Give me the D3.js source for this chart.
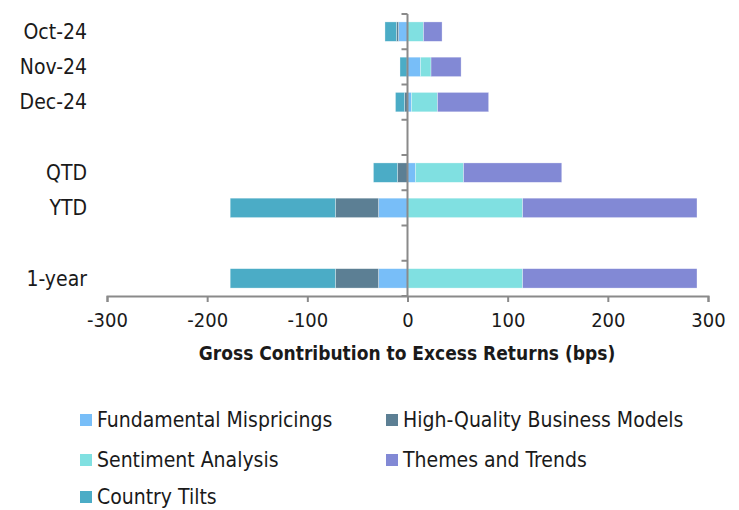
<!DOCTYPE html>
<html><head><meta charset="utf-8">
<script src="https://cdn.jsdelivr.net/npm/d3@7"></script>
<style>
body{margin:0;background:#fff;}
text{font-family:"DejaVu Sans Condensed","DejaVu Sans",sans-serif;font-stretch:condensed;fill:#1a1a1a;}
</style></head>
<body><svg id="c" width="739" height="510"></svg>
<script>
const categories = ["Oct-24","Nov-24","Dec-24","","QTD","YTD","","1-year"];
const seriesNames = ["Fundamental Mispricings","High-Quality Business Models","Sentiment Analysis","Themes and Trends","Country Tilts"];
const fundamental = [-9, 13, 4, 0, 8, -29, 0, -29];
const highQuality = [-2, -0.5, -3, 0, -10, -43, 0, -43];
const sentiment   = [16, 10.5, 26, 0, 48, 115, 0, 115];
const themes      = [18.5, 30, 51, 0, 98, 174, 0, 174];
const country     = [-11.5, -7, -9, 0, -24, -105, 0, -105];
const xTicks = [-300,-200,-100,0,100,200,300];
const colors = ["#78BEF8","#5C7F94","#80E0E1","#8289D5","#4BACC6"];

const seriesValues = [fundamental, highQuality, sentiment, themes, country];
const rows = categories.map((c,i)=>{
  const r = {idx:i};
  seriesNames.forEach((s,j)=>r[s]=seriesValues[j][i]);
  return r;
});
const stack = d3.stack().keys(seriesNames).offset(d3.stackOffsetDiverging)(rows);

const svg = d3.select("#c");
const x = d3.scaleLinear().domain([-300,300]).range([107,708]);
const y = d3.scaleBand().domain(d3.range(categories.length)).range([14,296]).paddingInner(0.45).paddingOuter(0.225);
const step = y.step();

svg.append("g").selectAll("g").data(stack).join("g")
  .attr("fill",(d,i)=>colors[i])
  .selectAll("rect").data(d=>d).join("rect")
  .attr("x",d=>x(Math.min(d[0],d[1])))
  .attr("width",d=>Math.abs(x(d[1])-x(d[0])))
  .attr("y",(d,i)=>y(i))
  .attr("height",y.bandwidth())
  .attr("stroke","#ffffff").attr("stroke-opacity",0.5).attr("stroke-width",0.6);

const axisColor = "#8a8a8a";
// x axis
const xa = svg.append("g").attr("transform","translate(0,296)")
  .call(d3.axisBottom(x).tickValues(xTicks).tickSize(6).tickSizeOuter(6).tickPadding(11).tickFormat(d=>String(d)));
xa.select(".domain").attr("stroke",axisColor).attr("stroke-width",2);
xa.selectAll(".tick line").attr("stroke",axisColor).attr("stroke-width",2);
xa.selectAll(".tick text").attr("font-size",20).attr("fill","#1a1a1a")
  .style("font-family",'"DejaVu Sans Condensed","DejaVu Sans",sans-serif');

// y axis at zero
const yg = svg.append("g");
yg.append("line").attr("x1",x(0)).attr("x2",x(0)).attr("y1",14).attr("y2",296)
  .attr("stroke",axisColor).attr("stroke-width",2);
const bounds = d3.range(categories.length+1).map(i=>14+i*step);
yg.selectAll(".yt").data(bounds).join("line")
  .attr("x1",x(0)-6).attr("x2",x(0)).attr("y1",d=>d).attr("y2",d=>d)
  .attr("stroke",axisColor).attr("stroke-width",2);
svg.append("g").selectAll("text").data(categories).join("text")
  .attr("x",87).attr("y",(d,i)=>y(i)+y.bandwidth()/2).attr("dy","0.35em")
  .attr("text-anchor","end").attr("font-size",21).text(d=>d);

// x title
svg.append("text").attr("x",407).attr("y",360).attr("text-anchor","middle")
  .attr("font-size",19).attr("font-weight","bold")
  .text("Gross Contribution to Excess Returns (bps)");

// legend
const legendPos = [[80,420],[386,420],[80,460],[386,460],[80,497]];
const lg = svg.append("g").selectAll("g").data(seriesNames).join("g")
  .attr("transform",(d,i)=>`translate(${legendPos[i][0]},${legendPos[i][1]})`);
lg.append("rect").attr("x",0).attr("y",-6).attr("width",12).attr("height",12).attr("fill",(d,i)=>colors[i]);
lg.append("text").attr("x",17).attr("y",0).attr("dy","0.35em").attr("font-size",21).text(d=>d);
</script></body></html>
